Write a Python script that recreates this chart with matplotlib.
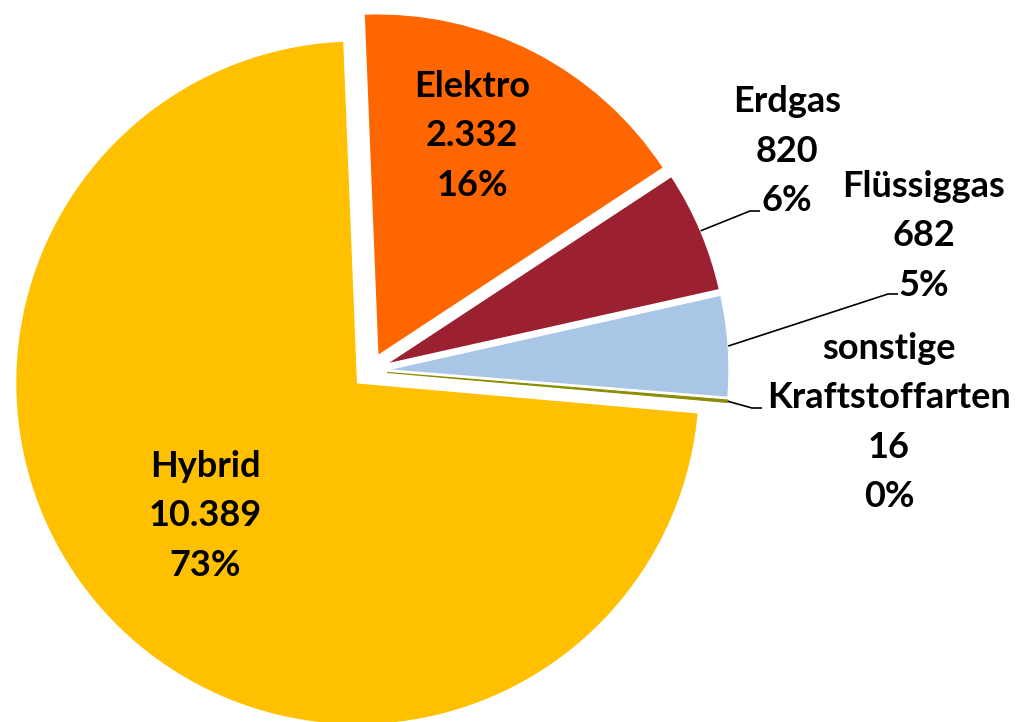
import math
import matplotlib
matplotlib.use("Agg")
import matplotlib.pyplot as plt

plt.rcParams['font.family'] = ['Lato', 'DejaVu Sans']

categories = ["Elektro", "Erdgas", "Flüssiggas", "sonstige\nKraftstoffarten", "Hybrid"]
values = [2332, 820, 682, 16, 10389]
colors = ["#FF6600", "#9B2131", "#A9C6E6", "#8C8C00", "#FFC000"]

W, H = 1017, 722
R_PX = 342.0           # pie radius in pixels
CX, CY = 370.0, 371.0  # pie centre in pixels (y down)

fig = plt.figure(figsize=(W / 100, H / 100), dpi=100)
ax = fig.add_axes([0, 0, 1, 1])

total = sum(values)
wedges, _ = ax.pie(values, colors=colors, startangle=92.3, counterclock=False,
                   explode=[0.05] * len(values), radius=1.0, center=(0, 0),
                   wedgeprops=dict(edgecolor="white", linewidth=1.0))
# the tiny wedge keeps its own colour on the edge so it stays visible
wedges[3].set_edgecolor(colors[3])
wedges[3].set_linewidth(0.8)
wedges[3].set_zorder(wedges[3].get_zorder() + 0.1)

ax.set_xlim(-CX / R_PX, (W - CX) / R_PX)
ax.set_ylim(-(H - CY) / R_PX, CY / R_PX)
ax.set_aspect("equal")
ax.axis("off")


def px(x, y):
    return ((x - CX) / R_PX, (CY - y) / R_PX)


def fmt(v):
    return f"{v:,}".replace(",", ".")


def label_lines(cat, v):
    return cat.split("\n") + [fmt(v), f"{round(v / total * 100)}%"]


# first-line baseline (pixel coords) for each label, line pitch 50 px
label_pos = {
    "Elektro": (472, 97),
    "Erdgas": (787, 112),
    "Flüssiggas": (924, 197),
    "sonstige\nKraftstoffarten": (889, 359),
    "Hybrid": (205, 477),
}
PITCH = 49.5
leader = {
    "Erdgas": [(750, 211), (760, 211)],
    "Flüssiggas": [(888, 294), (898, 294)],
    "sonstige\nKraftstoffarten": [(752, 408), (762, 408)],
}

for w, cat, v in zip(wedges, categories, values):
    x, y = label_pos[cat]
    for i, line in enumerate(label_lines(cat, v)):
        tx, ty = px(x, y + i * PITCH)
        ax.text(tx, ty, line, ha="center", va="baseline",
                fontsize=26, fontweight="bold", color="black")
    if cat in leader:
        thm = math.radians(0.5 * (w.theta1 + w.theta2))
        cx, cy = w.center
        sx = cx + w.r * math.cos(thm)
        sy = cy + w.r * math.sin(thm)
        pts = [(sx, sy)] + [px(*p) for p in leader[cat]]
        ax.plot([p[0] for p in pts], [p[1] for p in pts], color="black",
                linewidth=1.2, solid_capstyle="butt")

fig.savefig("out.png", dpi=100)
